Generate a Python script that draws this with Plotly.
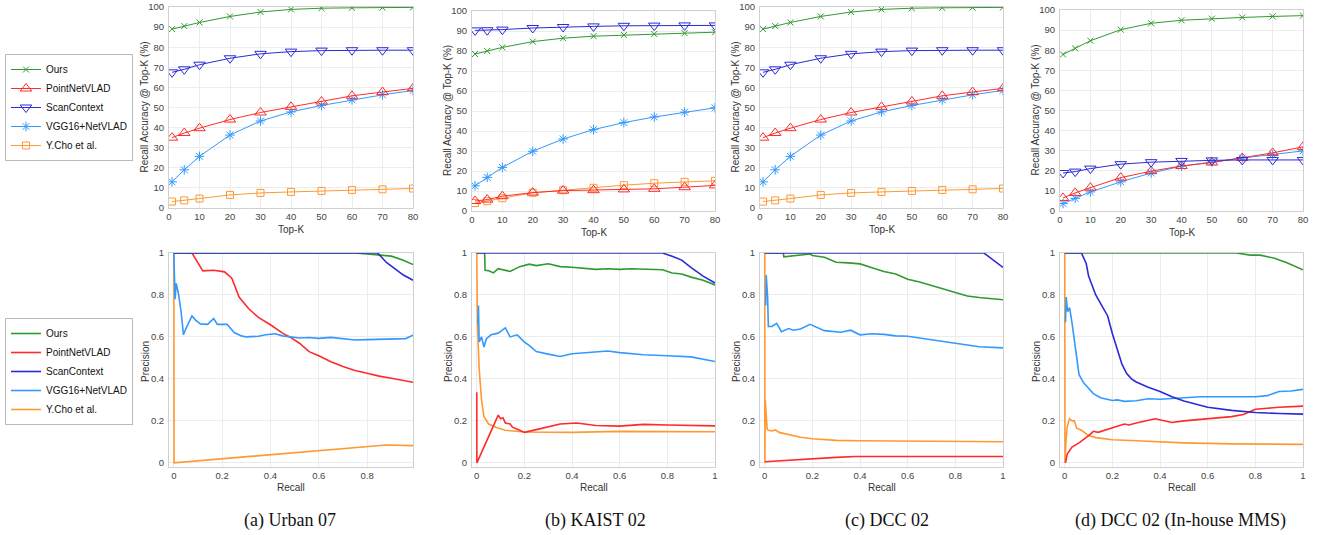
import plotly.graph_objects as go

W, H = 1318, 535

# ---------------- data ----------------
topk = [1, 5, 10, 20, 30, 40, 50, 60, 70, 80]
methods = ["Ours", "PointNetVLAD", "ScanContext", "VGG16+NetVLAD", "Y.Cho et al."]

# Recall@Top-K (%) per panel
urban_ours = [89, 90.5, 92.3, 95.3, 97.5, 98.8, 99.4, 99.6, 99.7, 99.8]
urban_pnv = [35, 37.3, 39.7, 44, 47.5, 50.3, 53, 55.8, 57.7, 59.5]
urban_sc = [67.5, 69, 71.3, 74.5, 76.7, 77.8, 78.3, 78.5, 78.5, 78.5]
urban_vgg = [13, 19, 25.7, 36.3, 43.3, 47.8, 51, 53.8, 56.3, 58.5]
urban_cho = [3.2, 3.8, 4.7, 6.5, 7.5, 8.0, 8.5, 9.0, 9.3, 9.7]

kaist_ours = [78.5, 80, 81.8, 84.7, 86.4, 87.4, 88.0, 88.5, 88.9, 89.4]
kaist_pnv = [5, 5.7, 7.4, 9.2, 10.2, 10.4, 10.8, 11.1, 11.9, 12.8]
kaist_sc = [90.3, 90.4, 90.7, 91.5, 92, 92.3, 92.6, 92.7, 92.8, 92.8]
kaist_vgg = [12.6, 16.8, 21.8, 29.9, 36, 40.7, 44.2, 47, 49.4, 51.6]
kaist_cho = [4, 4.9, 6.4, 9.1, 10.4, 11.6, 12.9, 13.9, 14.6, 15.1]

dcc_ours = urban_ours
dcc_pnv = urban_pnv
dcc_sc = urban_sc
dcc_vgg = urban_vgg
dcc_cho = urban_cho

mms_ours = [77.9, 80.9, 84.7, 90.2, 93.4, 94.9, 95.7, 96.3, 96.8, 97.2]
mms_pnv = [6.5, 9, 11.6, 16.6, 19.8, 22.4, 24.1, 26.4, 28.9, 31.9]
mms_sc = [18.9, 19.6, 21.1, 23.3, 24.3, 24.9, 25.2, 25.4, 25.4, 25.4]
mms_vgg = [3.7, 6.3, 9.5, 14.5, 18.9, 22.3, 24.4, 26.4, 28.1, 29.9]

# Precision-recall curves: (recall list, precision list)
# (a) Urban 07
a_ours_r = [0, 0.75, 0.8, 0.85, 0.9, 0.95, 0.99]
a_ours_p = [1, 1, 0.995, 0.99, 0.985, 0.965, 0.945]
a_sc_r = [0, 0.844, 0.88, 0.92, 0.95, 0.99]
a_sc_p = [1, 1, 0.955, 0.92, 0.895, 0.87]
a_pnv_r = [0, 0.075, 0.12, 0.165, 0.21, 0.24, 0.27, 0.31, 0.35, 0.37, 0.4, 0.45, 0.48, 0.52, 0.56, 0.6, 0.65, 0.7, 0.75, 0.8, 0.85, 0.9, 0.99]
a_pnv_p = [1, 1, 0.915, 0.918, 0.91, 0.88, 0.79, 0.734, 0.693, 0.68, 0.658, 0.618, 0.6, 0.57, 0.53, 0.51, 0.482, 0.459, 0.44, 0.427, 0.413, 0.403, 0.384]
a_vgg_r = [0, 0.005, 0.01, 0.02, 0.03, 0.04, 0.05, 0.075, 0.09, 0.11, 0.14, 0.165, 0.18, 0.22, 0.25, 0.28, 0.3, 0.35, 0.38, 0.42, 0.45, 0.48, 0.52, 0.56, 0.6, 0.65, 0.7, 0.75, 0.8, 0.9, 0.96, 0.99]
a_vgg_p = [1, 0.78, 0.855, 0.8, 0.72, 0.61, 0.64, 0.70, 0.68, 0.662, 0.66, 0.688, 0.66, 0.66, 0.621, 0.605, 0.60, 0.603, 0.61, 0.615, 0.605, 0.60, 0.595, 0.597, 0.593, 0.598, 0.59, 0.585, 0.587, 0.59, 0.592, 0.608]
a_cho_r = [0, 0.001, 0.88, 0.99]
a_cho_p = [1, 0, 0.085, 0.082]

# (b) KAIST 02
b_ours_r = [0, 0.033, 0.035, 0.05, 0.07, 0.09, 0.14, 0.18, 0.22, 0.25, 0.3, 0.35, 0.4, 0.45, 0.5, 0.55, 0.6, 0.65, 0.7, 0.78, 0.82, 0.86, 0.9, 0.95, 1.0]
b_ours_p = [1, 1, 0.917, 0.915, 0.905, 0.925, 0.912, 0.935, 0.947, 0.94, 0.949, 0.935, 0.932, 0.928, 0.922, 0.925, 0.922, 0.925, 0.922, 0.92, 0.905, 0.9, 0.885, 0.87, 0.848]
b_sc_r = [0, 0.78, 0.82, 0.86, 0.9, 0.95, 1.0]
b_sc_p = [1, 1, 0.984, 0.966, 0.93, 0.89, 0.857]
b_pnv_r = [0, 0.0005, 0.09, 0.1, 0.11, 0.12, 0.14, 0.15, 0.18, 0.2, 0.25, 0.3, 0.35, 0.42, 0.5, 0.6, 0.7, 0.8, 1.0]
b_pnv_p = [0.336, 0, 0.227, 0.21, 0.215, 0.19, 0.185, 0.17, 0.155, 0.145, 0.158, 0.17, 0.185, 0.19, 0.178, 0.175, 0.183, 0.18, 0.176]
b_vgg_r = [0.005, 0.007, 0.01, 0.02, 0.03, 0.04, 0.06, 0.09, 0.12, 0.14, 0.17, 0.2, 0.22, 0.25, 0.3, 0.35, 0.4, 0.5, 0.55, 0.6, 0.7, 0.8, 0.9, 1.0]
b_vgg_p = [0.66, 0.75, 0.576, 0.6, 0.552, 0.59, 0.61, 0.618, 0.643, 0.60, 0.61, 0.575, 0.56, 0.53, 0.518, 0.507, 0.52, 0.527, 0.533, 0.525, 0.515, 0.51, 0.505, 0.483]
b_cho_r = [0, 0.003, 0.01, 0.02, 0.03, 0.05, 0.08, 0.12, 0.2, 0.3, 0.4, 0.6, 1.0]
b_cho_p = [1, 0.65, 0.45, 0.3, 0.22, 0.185, 0.17, 0.155, 0.147, 0.145, 0.145, 0.15, 0.148]

# (c) DCC 02
c_ours_r = [0, 0.078, 0.08, 0.1, 0.15, 0.19, 0.2, 0.25, 0.28, 0.3, 0.35, 0.4, 0.45, 0.5, 0.55, 0.6, 0.65, 0.7, 0.75, 0.8, 0.85, 0.9, 0.95, 1.0]
c_ours_p = [1, 1, 0.982, 0.985, 0.99, 0.995, 0.988, 0.98, 0.965, 0.956, 0.953, 0.948, 0.93, 0.912, 0.9, 0.875, 0.862, 0.845, 0.828, 0.811, 0.795, 0.788, 0.782, 0.777]
c_sc_r = [0, 0.92, 1.0]
c_sc_p = [1, 1, 0.931]
c_pnv_r = [0, 0.1, 0.2, 0.3, 0.38, 1.0]
c_pnv_p = [0.005, 0.013, 0.02, 0.026, 0.03, 0.03]
c_vgg_r = [0.004, 0.006, 0.012, 0.015, 0.03, 0.05, 0.07, 0.08, 0.1, 0.12, 0.15, 0.19, 0.22, 0.25, 0.32, 0.36, 0.4, 0.45, 0.5, 0.55, 0.6, 0.7, 0.8, 0.9, 1.0]
c_vgg_p = [0.75, 0.895, 0.79, 0.65, 0.65, 0.665, 0.625, 0.63, 0.64, 0.632, 0.638, 0.66, 0.645, 0.63, 0.622, 0.632, 0.61, 0.615, 0.612, 0.605, 0.603, 0.585, 0.57, 0.553, 0.548]
c_cho_r = [0, 0.0005, 0.002, 0.01, 0.015, 0.03, 0.045, 0.06, 0.1, 0.15, 0.2, 0.3, 0.4, 0.6, 0.8, 1.0]
c_cho_p = [1, 0, 0.3, 0.16, 0.155, 0.152, 0.157, 0.145, 0.135, 0.122, 0.115, 0.107, 0.105, 0.103, 0.101, 0.1]

# (d) DCC 02 (In-house MMS)
d_ours_r = [0, 0.72, 0.78, 0.82, 0.88, 0.93, 1.0]
d_ours_p = [1, 1, 0.99, 0.99, 0.975, 0.955, 0.92]
d_sc_r = [0, 0.07, 0.09, 0.1, 0.13, 0.16, 0.18, 0.2, 0.22, 0.24, 0.26, 0.28, 0.3, 0.35, 0.4, 0.45, 0.5, 0.55, 0.6, 0.7, 0.8, 0.9, 1.0]
d_sc_p = [1, 1, 0.95, 0.89, 0.8, 0.74, 0.7, 0.615, 0.54, 0.47, 0.425, 0.4, 0.385, 0.36, 0.34, 0.315, 0.295, 0.28, 0.265, 0.25, 0.24, 0.235, 0.232]
d_pnv_r = [0.003, 0.005, 0.01, 0.03, 0.06, 0.1, 0.12, 0.14, 0.2, 0.25, 0.27, 0.3, 0.38, 0.45, 0.5, 0.6, 0.7, 0.75, 0.8, 0.85, 0.9, 1.0]
d_pnv_p = [0.0, 0.02, 0.04, 0.075, 0.095, 0.13, 0.15, 0.145, 0.165, 0.185, 0.18, 0.19, 0.21, 0.192, 0.2, 0.21, 0.22, 0.23, 0.255, 0.26, 0.265, 0.27]
d_vgg_r = [0.003, 0.006, 0.012, 0.02, 0.03, 0.04, 0.05, 0.06, 0.08, 0.1, 0.12, 0.15, 0.2, 0.22, 0.25, 0.3, 0.35, 0.4, 0.5, 0.57, 0.7, 0.8, 0.85, 0.9, 0.95, 1.0]
d_vgg_p = [0.67, 0.79, 0.72, 0.74, 0.67, 0.58, 0.5, 0.42, 0.38, 0.355, 0.33, 0.31, 0.297, 0.3, 0.293, 0.296, 0.305, 0.303, 0.31, 0.315, 0.315, 0.315, 0.32, 0.34, 0.342, 0.35]
d_cho_r = [0, 0.001, 0.005, 0.01, 0.02, 0.03, 0.04, 0.05, 0.07, 0.1, 0.13, 0.2, 0.3, 0.5, 0.7, 1.0]
d_cho_p = [1, 0, 0.1, 0.17, 0.21, 0.2, 0.2, 0.165, 0.155, 0.13, 0.12, 0.11, 0.105, 0.095, 0.09, 0.088]

captions = ["(a) Urban 07", "(b) KAIST 02", "(c) DCC 02", "(d) DCC 02 (In-house MMS)"]

# ---------------- styles ----------------
colors = {"Ours": "#2f9a2f", "PointNetVLAD": "#ff2a2a", "ScanContext": "#2a2ad8",
          "VGG16+NetVLAD": "#3399ff", "Y.Cho et al.": "#ff9933"}
symbols = {"Ours": "x-thin", "PointNetVLAD": "triangle-up-open", "ScanContext": "triangle-down-open",
           "VGG16+NetVLAD": "asterisk-open", "Y.Cho et al.": "square-open"}
msize = {"Ours": 6, "PointNetVLAD": 10, "ScanContext": 10, "VGG16+NetVLAD": 8, "Y.Cho et al.": 7}

FONT = "Liberation Sans"
TICKC = "#444444"

top_data = [
    {"Ours": urban_ours, "PointNetVLAD": urban_pnv, "ScanContext": urban_sc, "VGG16+NetVLAD": urban_vgg, "Y.Cho et al.": urban_cho},
    {"Ours": kaist_ours, "PointNetVLAD": kaist_pnv, "ScanContext": kaist_sc, "VGG16+NetVLAD": kaist_vgg, "Y.Cho et al.": kaist_cho},
    {"Ours": dcc_ours, "PointNetVLAD": dcc_pnv, "ScanContext": dcc_sc, "VGG16+NetVLAD": dcc_vgg, "Y.Cho et al.": dcc_cho},
    {"Ours": mms_ours, "PointNetVLAD": mms_pnv, "ScanContext": mms_sc, "VGG16+NetVLAD": mms_vgg},
]
pr_data = [
    {"Ours": (a_ours_r, a_ours_p), "PointNetVLAD": (a_pnv_r, a_pnv_p), "ScanContext": (a_sc_r, a_sc_p),
     "VGG16+NetVLAD": (a_vgg_r, a_vgg_p), "Y.Cho et al.": (a_cho_r, a_cho_p)},
    {"Ours": (b_ours_r, b_ours_p), "PointNetVLAD": (b_pnv_r, b_pnv_p), "ScanContext": (b_sc_r, b_sc_p),
     "VGG16+NetVLAD": (b_vgg_r, b_vgg_p), "Y.Cho et al.": (b_cho_r, b_cho_p)},
    {"Ours": (c_ours_r, c_ours_p), "PointNetVLAD": (c_pnv_r, c_pnv_p), "ScanContext": (c_sc_r, c_sc_p),
     "VGG16+NetVLAD": (c_vgg_r, c_vgg_p), "Y.Cho et al.": (c_cho_r, c_cho_p)},
    {"Ours": (d_ours_r, d_ours_p), "PointNetVLAD": (d_pnv_r, d_pnv_p), "ScanContext": (d_sc_r, d_sc_p),
     "VGG16+NetVLAD": (d_vgg_r, d_vgg_p), "Y.Cho et al.": (d_cho_r, d_cho_p)},
]
# draw order (bottom to top)
order_top = ["Y.Cho et al.", "VGG16+NetVLAD", "PointNetVLAD", "ScanContext", "Ours"]
order_pr = ["Y.Cho et al.", "PointNetVLAD", "VGG16+NetVLAD", "Ours", "ScanContext"]

# column boxes in pixels
cols_px = [(169, 413), (472, 715), (760, 1003), (1060, 1303)]
top_px = [(7, 208), (11, 211), (7, 208), (10, 211)]
bot_px = (253, 467)
cap_x = [290, 595, 887, 1180]


def fx(p):
    return p / W


def fy(p):
    return 1 - p / H


fig = go.Figure()
layout = {}
annotations = []


def label(text, x, y, size, angle=0, color="#333333", family=FONT):
    annotations.append(dict(text=text, x=fx(x), y=fy(y), xref="paper", yref="paper",
                            xanchor="center", yanchor="middle", textangle=angle,
                            showarrow=False, font=dict(size=size, color=color, family=family)))


for c in range(4):
    ti = c + 1
    bi = c + 5
    layout[f"xaxis{ti}"] = dict(domain=[fx(cols_px[c][0]), fx(cols_px[c][1])], range=[0, 80],
                                tickvals=[0, 10, 20, 30, 40, 50, 60, 70, 80], anchor=f"y{ti}")
    layout[f"yaxis{ti}"] = dict(domain=[fy(top_px[c][1]), fy(top_px[c][0])], range=[0, 100],
                                tickvals=list(range(0, 101, 10)), anchor=f"x{ti}")
    xr = [-0.02, 0.99] if c == 0 else [-0.02, 1.0]
    xt = [0, 0.2, 0.4, 0.6, 0.8] if c == 0 else [0, 0.2, 0.4, 0.6, 0.8, 1]
    layout[f"xaxis{bi}"] = dict(domain=[fx(cols_px[c][0]), fx(cols_px[c][1])], range=xr,
                                tickvals=xt, anchor=f"y{bi}")
    layout[f"yaxis{bi}"] = dict(domain=[fy(bot_px[1]), fy(bot_px[0])], range=[-0.02, 1.0],
                                tickvals=[0, 0.2, 0.4, 0.6, 0.8, 1], anchor=f"x{bi}")

    for m in order_top:
        if m not in top_data[c]:
            continue
        fig.add_trace(go.Scatter(
            x=topk, y=top_data[c][m], mode="lines+markers", name=m,
            line=dict(color=colors[m], width=1),
            marker=dict(symbol=symbols[m], size=msize[m], color=colors[m],
                        line=dict(color=colors[m], width=1)),
            xaxis=f"x{ti}", yaxis=f"y{ti}", legend="legend", legendrank=methods.index(m),
            showlegend=(c == 0)))
    for m in order_pr:
        r, p = pr_data[c][m]
        fig.add_trace(go.Scatter(
            x=r, y=p, mode="lines", name=m,
            line=dict(color=colors[m], width=1.6),
            xaxis=f"x{bi}", yaxis=f"y{bi}", legend="legend2", legendrank=methods.index(m),
            showlegend=(c == 0)))

    xc = (cols_px[c][0] + cols_px[c][1]) / 2
    label("Top-K", xc, top_px[c][1] + 21, 10)
    label("Recall Accuracy @ Top-K (%)", cols_px[c][0] - 25, (top_px[c][0] + top_px[c][1]) / 2, 10, -90)
    label("Recall", xc, 488, 10)
    label("Precision", cols_px[c][0] - 24, 362, 10, -90)
    label(captions[c], cap_x[c], 520, 18, 0, "#111111", "Liberation Serif")

axis_common = dict(showgrid=True, gridcolor="#ececec", gridwidth=1, zeroline=False,
                   showline=True, linecolor="#d0d0d0", linewidth=1, mirror=True,
                   automargin=False,
                   ticks="", tickfont=dict(size=9.5, color=TICKC, family=FONT))
for k, v in layout.items():
    v.update(axis_common)
    v["ticklabelstandoff"] = 0 if k.startswith("xaxis") else 2

legend_common = dict(bgcolor="white", bordercolor="#bbbbbb", borderwidth=1,
                     font=dict(size=10, color="#111111", family=FONT),
                     xanchor="left", yanchor="top", xref="paper", yref="paper",
                     itemwidth=30, tracegroupgap=0, traceorder="normal")

fig.update_layout(
    width=W, height=H, margin=dict(l=0, r=0, t=0, b=0, autoexpand=False),
    paper_bgcolor="white", plot_bgcolor="white",
    font=dict(family=FONT),
    annotations=annotations,
    legend=dict(x=fx(5), y=fy(54), **legend_common),
    legend2=dict(x=fx(5), y=fy(318), **legend_common),
    **layout,
)

post = ("var gd=document.getElementById('{plot_id}');"
        "gd.style.position='fixed';gd.style.left='0px';gd.style.top='0px';"
        "document.body.style.margin='0px';document.documentElement.style.overflow='hidden';")
fig.write_html("out.html", config={"displayModeBar": False}, post_script=post)
